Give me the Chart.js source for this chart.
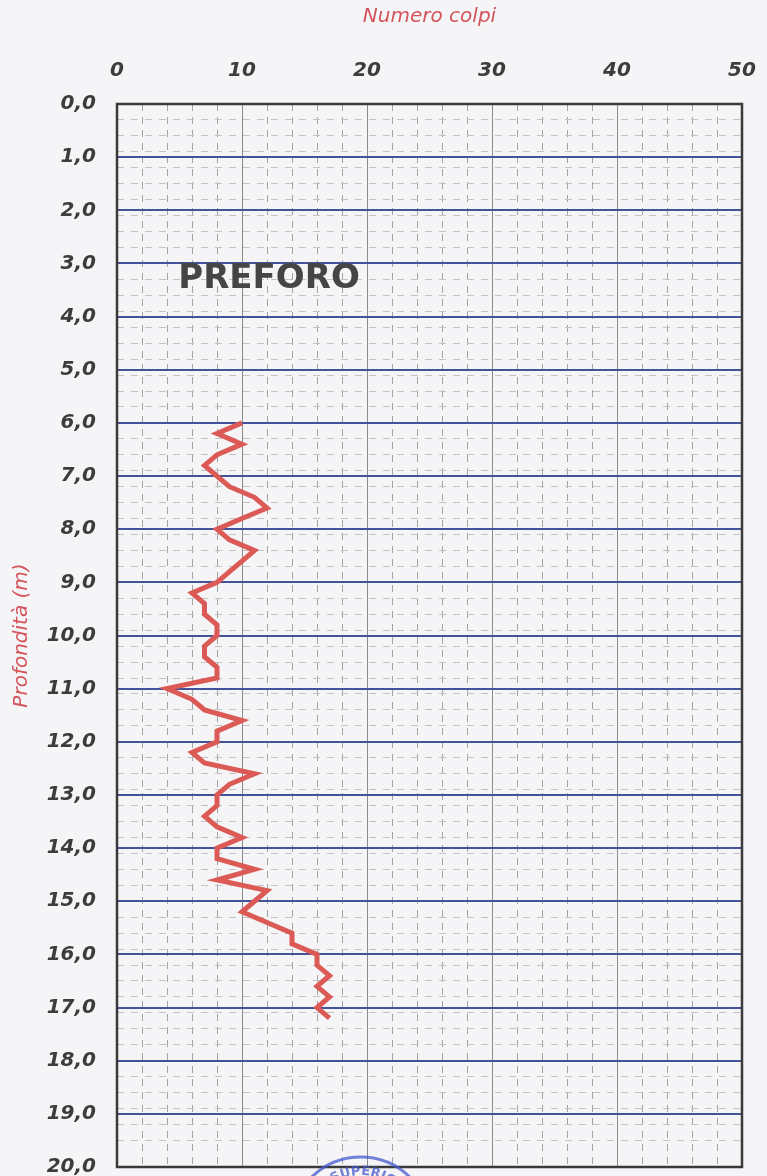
<!DOCTYPE html>
<html>
<head>
<meta charset="utf-8">
<script src="https://cdn.jsdelivr.net/npm/chart.js@4.4.1/dist/chart.umd.min.js"></script>
<style>
  html, body { margin: 0; padding: 0; background: #f5f5f7; }
  #wrap { position: relative; width: 767px; height: 1176px; }
</style>
</head>
<body>
<div id="wrap"><canvas id="chart"></canvas></div>
<script>
// blows read every 0.2 m, below the pre-drilled part
const depths = [
  6.0, 6.2, 6.4, 6.6, 6.8, 7.0, 7.2, 7.4, 7.6, 7.8,
  8.0, 8.2, 8.4, 8.6, 8.8, 9.0, 9.2, 9.4, 9.6, 9.8,
  10.0, 10.2, 10.4, 10.6, 10.8, 11.0, 11.2, 11.4, 11.6, 11.8,
  12.0, 12.2, 12.4, 12.6, 12.8, 13.0, 13.2, 13.4, 13.6, 13.8,
  14.0, 14.2, 14.4, 14.6, 14.8, 15.0, 15.2, 15.4, 15.6, 15.8,
  16.0, 16.2, 16.4, 16.6, 16.8, 17.0, 17.2
];
const blows = [
  10, 8, 10, 8, 7, 8, 9, 11, 12, 10,
  8, 9, 11, 10, 9, 8, 6, 7, 7, 8,
  8, 7, 7, 8, 8, 4, 6, 7, 10, 8,
  8, 6, 7, 11, 9, 8, 8, 7, 8, 10,
  8, 8, 11, 8, 12, 11, 10, 12, 14, 14,
  16, 16, 17, 16, 17, 16, 17
];

const xTickLabels = ["0", "10", "20", "30", "40", "50"];
const yTickLabels = [
  "0,0", "1,0", "2,0", "3,0", "4,0", "5,0", "6,0", "7,0", "8,0", "9,0", "10,0",
  "11,0", "12,0", "13,0", "14,0", "15,0", "16,0", "17,0", "18,0", "19,0", "20,0"
];
const xTitle = "Numero colpi";
const yTitle = "Profondità (m)";
const preforoLabel = "PREFORO";
const stampText = "O SUPERIOR";

const FONT = "'DejaVu Sans', sans-serif";
const RED = "#d4545c";
const INK = "#3c3c3c";

const tickFont = { family: FONT, size: 20, weight: "bold", style: "italic" };
const titleFont = { family: FONT, size: 20, style: "italic" };

// frame, label and the stamp at the bottom
const decorations = {
  id: "decorations",
  beforeDatasetsDraw(chart) {
    const { ctx, chartArea: a, scales } = chart;
    ctx.save();
    ctx.font = "bold 34px " + FONT;
    ctx.fillStyle = "#454545";
    ctx.textBaseline = "alphabetic";
    ctx.fillText(preforoLabel, scales.x.getPixelForValue(4.9), scales.y.getPixelForValue(3.46));
    ctx.strokeStyle = "#3a3a3a";
    ctx.lineWidth = 2.5;
    ctx.strokeRect(a.left, a.top, a.right - a.left, a.bottom - a.top);
    ctx.restore();
  },
  afterDraw(chart) {
    const { ctx, chartArea: a, scales } = chart;
    const cx = scales.x.getPixelForValue(19.5);
    const cy = a.bottom + 60;
    const ink = "rgba(70, 90, 205, 0.75)";
    ctx.save();
    ctx.strokeStyle = ink;
    ctx.lineWidth = 3;
    ctx.beginPath();
    ctx.arc(cx, cy, 70, Math.PI, 2 * Math.PI);
    ctx.stroke();
    ctx.font = "bold 13px " + FONT;
    ctx.fillStyle = ink;
    const r = 52;
    const widths = [...stampText].map(ch => ctx.measureText(ch).width);
    let ang = -Math.PI / 2 - widths.reduce((s, w) => s + w, 0) / r / 2;
    [...stampText].forEach((ch, i) => {
      ang += widths[i] / 2 / r;
      ctx.save();
      ctx.translate(cx + r * Math.cos(ang), cy + r * Math.sin(ang));
      ctx.rotate(ang + Math.PI / 2);
      ctx.fillText(ch, -widths[i] / 2, 0);
      ctx.restore();
      ang += widths[i] / 2 / r;
    });
    ctx.restore();
  }
};

new Chart(document.getElementById("chart"), {
  type: "scatter",
  data: {
    datasets: [{
      data: depths.map((d, i) => ({ x: blows[i], y: d })),
      showLine: true,
      borderColor: "#dc5a55",
      borderWidth: 5,
      pointRadius: 0,
      tension: 0
    }]
  },
  options: {
    responsive: true,
    maintainAspectRatio: false,
    animation: false,
    layout: { padding: { left: 0, top: 0, right: 25, bottom: 9 } },
    plugins: { legend: { display: false }, tooltip: { enabled: false } },
    scales: {
      x: {
        type: "linear",
        position: "top",
        min: 0,
        max: 50,
        ticks: {
          stepSize: 10,
          autoSkip: false,
          maxRotation: 0,
          padding: 21,
          color: INK,
          font: tickFont,
          callback: v => xTickLabels[Math.round(v / 10)]
        },
        grid: { color: "#8c8c8c", lineWidth: 1, drawTicks: false, z: -2 },
        border: { display: false },
        title: { display: true, text: xTitle, color: RED, font: titleFont, padding: { top: 5, bottom: 0 } },
        afterFit(s) { s.height = 104; s.paddingLeft = 0; s.paddingRight = 0; }
      },
      xMinor: {
        type: "linear",
        position: "top",
        min: 0,
        max: 50,
        ticks: { stepSize: 2, display: false },
        grid: { color: "#a3a3a3", lineWidth: 1, drawTicks: false, z: -3 },
        border: { display: false, dash: [7, 6] },
        afterFit(s) { s.height = 0; }
      },
      y: {
        type: "linear",
        position: "left",
        reverse: true,
        min: 0,
        max: 20,
        ticks: {
          stepSize: 1,
          autoSkip: false,
          padding: 21,
          color: INK,
          font: tickFont,
          callback: v => yTickLabels[Math.round(v)]
        },
        grid: { color: "#44529a", lineWidth: 2, drawTicks: false, z: -1 },
        border: { display: false },
        title: { display: true, text: yTitle, color: RED, font: titleFont, padding: { top: 10, bottom: 0 } },
        afterFit(s) { s.width = 117; s.paddingTop = 0; s.paddingBottom = 0; }
      },
      yMinor: {
        type: "linear",
        position: "left",
        reverse: true,
        min: 0,
        max: 20,
        ticks: { stepSize: 0.3, display: false },
        grid: { color: "#c3c3c3", lineWidth: 1, drawTicks: false, z: -3 },
        border: { display: false, dash: [7, 7] },
        afterFit(s) { s.width = 0; }
      }
    }
  },
  plugins: [decorations]
});
</script>
</body>
</html>
